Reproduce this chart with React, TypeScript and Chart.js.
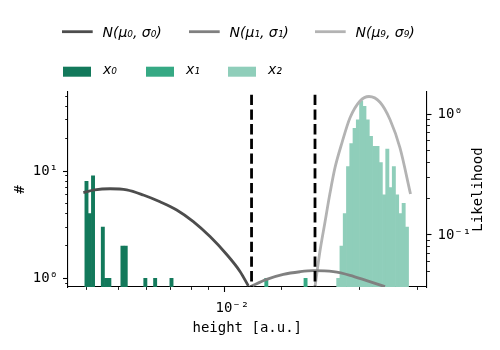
import React, { useEffect, useRef } from 'react';
import { Chart, registerables } from 'chart.js';

Chart.register(...registerables);

// ---------- data ----------
// histogram bins (bin centres, log-spaced 0.01 decade) and counts
const x0Bins = [0.003581, 0.003664, 0.00375, 0.004018, 0.004111, 0.004207, 0.004613, 0.004721, 0.00542, 0.005808, 0.006516];
const x0Counts = [8, 4, 9, 3, 1, 1, 2, 2, 1, 1, 1];
const x1Bins = [0.012706, 0.016749];
const x1Counts = [1, 1];
const x2Bins = [0.021086, 0.021577, 0.02208, 0.022594, 0.023121, 0.023659, 0.02421, 0.024774, 0.025351, 0.025942, 0.026546,
  0.027164, 0.027797, 0.028445, 0.029107, 0.029785, 0.030479, 0.031189, 0.031915, 0.032659, 0.03342, 0.034198];
const x2Counts = [1, 2, 4, 11, 18, 25, 30, 45, 40, 30, 21, 17, 17, 12, 6, 16, 7, 11, 6, 4, 5, 3];

// likelihood curves (right axis)
const n0X = [0.003503, 0.003795, 0.004227, 0.004754, 0.005343, 0.006011, 0.00676, 0.007599, 0.008547, 0.009613, 0.010557, 0.011193];
const n0Y = [0.224, 0.236, 0.241, 0.236, 0.214, 0.188, 0.161, 0.129, 0.097, 0.069, 0.05, 0.038];
const n1X = [0.011328, 0.012741, 0.014323, 0.016107, 0.017686, 0.020366, 0.022906, 0.025764, 0.029307];
const n1Y = [0.0374, 0.043, 0.0473, 0.0497, 0.0507, 0.0497, 0.0464, 0.0419, 0.0374];
const n9X = [0.017902, 0.018544, 0.019207, 0.019895, 0.020608, 0.02165, 0.022906, 0.024582, 0.026184, 0.028292, 0.03035, 0.032565, 0.035072];
const n9Y = [0.0374, 0.074, 0.128, 0.222, 0.36, 0.58, 0.93, 1.28, 1.395, 1.25, 0.9, 0.524, 0.218];

// vertical thresholds
const thresholds = [0.01145, 0.0179];

const seriesLabels = ['x₀', 'x₁', 'x₂'];
const curveLabels = ['N(μ₀, σ₀)', 'N(μ₁, σ₁)', 'N(μ₉, σ₉)'];
const xTitle = 'height [a.u.]';
const yTitle = '#';
const y1Title = 'Likelihood';

const xRange = [0.003144, 0.03925];
const yRange = [0.8296, 54.5];
const y1Range = [0.03717, 1.52];

// ---------- styles ----------
const barColors = ['#13795b', '#36a984', '#8fceba'];
const curveColors = ['#4d4d4d', '#808080', '#b3b3b3'];
const MONO = '"DejaVu Sans Mono", monospace';
const SANS = '"DejaVu Sans", sans-serif';

const SUP: Record<string, string> = { '-': '⁻', '0': '⁰', '1': '¹', '2': '²', '3': '³', '4': '⁴', '5': '⁵', '6': '⁶', '7': '⁷', '8': '⁸', '9': '⁹' };

function powExp(v: number): number | null {
  const e = Math.round(Math.log10(v));
  return Math.abs(v / Math.pow(10, e) - 1) < 1e-6 ? e : null;
}
function isNice(v: number): boolean {
  const e = Math.floor(Math.log10(v) + 1e-9);
  const s = v / Math.pow(10, e);
  const r = Math.round(s);
  return Math.abs(s - r) < 1e-6 && r >= 1 && r <= 9;
}
function logLabel(v: number): string {
  const e = powExp(v);
  if (e === null) return '';
  return '10' + String(e).split('').map((c) => SUP[c]).join('');
}

function logAxis(position: string, range: number[], outerStart: boolean, extra: any) {
  return {
    type: 'logarithmic',
    position,
    min: range[0],
    max: range[1],
    afterBuildTicks: (scale: any) => {
      scale.ticks = scale.ticks.filter((t: any) => isNice(t.value));
    },
    ticks: {
      autoSkip: false,
      maxRotation: 0,
      minRotation: 0,
      color: '#000',
      font: { family: MONO, size: 14 },
      callback: (v: any) => logLabel(Number(v)),
    },
    grid: {
      drawOnChartArea: false,
      drawTicks: true,
      tickLength: 5,
      tickColor: '#000',
      tickWidth: (ctx: any) => (ctx.tick && powExp(ctx.tick.value) !== null ? 1.1 : 0.9),
      tickBorderDash: (ctx: any) => (ctx.tick && powExp(ctx.tick.value) !== null ? [] : [2.8, 10]),
      tickBorderDashOffset: (ctx: any) => (ctx.tick && powExp(ctx.tick.value) !== null ? 0 : outerStart ? 10.6 : 0),
    },
    border: { display: true, color: '#000', width: 1.1 },
    ...extra,
  };
}

const overlayPlugin = {
  id: 'overlay',
  afterDraw(chart: any) {
    const { ctx, chartArea } = chart;
    const ds = chart.data.datasets;
    const curves = ds.filter((d: any) => d.yAxisID === 'y1');
    const bars = ds.filter((d: any) => d.type === 'bar');
    ctx.save();
    ctx.font = `italic 14px ${SANS}`;
    ctx.textBaseline = 'middle';
    ctx.textAlign = 'left';
    const row1X = [62, 189, 315];
    const row2X = [63, 146, 228];
    curves.forEach((d: any, i: number) => {
      const x = row1X[i];
      ctx.strokeStyle = d.borderColor;
      ctx.lineWidth = 2.8;
      ctx.lineCap = 'butt';
      ctx.beginPath();
      ctx.moveTo(x, 31.7);
      ctx.lineTo(x + 30.7, 31.7);
      ctx.stroke();
      ctx.fillStyle = '#000';
      ctx.fillText(d.label, x + 40.5, 33);
    });
    bars.forEach((d: any, i: number) => {
      const x = row2X[i];
      ctx.fillStyle = d.backgroundColor;
      ctx.fillRect(x, 66.7, 28, 10);
      ctx.fillStyle = '#000';
      ctx.fillText(d.label, x + 40, 70.5);
    });
    ctx.font = `14px ${MONO}`;
    ctx.textAlign = 'center';
    ctx.fillStyle = '#000';
    ctx.translate(chartArea.right + 51.5, (chartArea.top + chartArea.bottom) / 2);
    ctx.rotate(-Math.PI / 2);
    ctx.fillText(y1Title, 0, 0);
    ctx.restore();
  },
};

const pts = (xs: number[], ys: number[]) => xs.map((x, i) => ({ x, y: ys[i] }));

export default function App() {
  const ref = useRef<HTMLCanvasElement | null>(null);
  useEffect(() => {
    if (!ref.current) return;
    Chart.defaults.font.family = SANS;
    const barDs = (label: string, xs: number[], ys: number[], color: string) => ({
      type: 'bar',
      label,
      data: pts(xs, ys),
      backgroundColor: color,
      borderWidth: 0,
      grouped: false,
      barPercentage: 1,
      categoryPercentage: 1,
      xAxisID: 'x',
      yAxisID: 'y',
      order: 3,
    });
    const curveDs = (label: string, xs: number[], ys: number[], color: string) => ({
      type: 'line',
      label,
      data: pts(xs, ys),
      borderColor: color,
      borderWidth: 2.8,
      pointRadius: 0,
      cubicInterpolationMode: 'monotone',
      fill: false,
      xAxisID: 'x',
      yAxisID: 'y1',
      order: 2,
    });
    const thrDs = (t: number) => ({
      type: 'line',
      label: '',
      data: [{ x: t, y: yRange[1] }, { x: t, y: yRange[0] }],
      borderColor: '#000',
      borderWidth: 2.8,
      borderDash: [10.3, 4.4],
      borderDashOffset: 12,
      borderCapStyle: 'butt',
      pointRadius: 0,
      fill: false,
      xAxisID: 'x',
      yAxisID: 'y',
      order: 1,
    });
    const chart = new Chart(ref.current, {
      type: 'bar',
      data: {
        datasets: [
          barDs(seriesLabels[0], x0Bins, x0Counts, barColors[0]),
          barDs(seriesLabels[1], x1Bins, x1Counts, barColors[1]),
          barDs(seriesLabels[2], x2Bins, x2Counts, barColors[2]),
          curveDs(curveLabels[0], n0X, n0Y, curveColors[0]),
          curveDs(curveLabels[1], n1X, n1Y, curveColors[1]),
          curveDs(curveLabels[2], n9X, n9Y, curveColors[2]),
          ...thresholds.map(thrDs),
        ] as any,
      },
      options: {
        responsive: false,
        animation: false,
        events: [],
        layout: { padding: { top: 92, left: 0, right: 0, bottom: 0 } },
        plugins: { legend: { display: false }, tooltip: { enabled: false } },
        scales: {
          x: logAxis('bottom', xRange, false, {
            ticks: {
              autoSkip: false, maxRotation: 0, minRotation: 0, color: '#000', padding: 8,
              font: { family: MONO, size: 14 }, callback: (v: any) => logLabel(Number(v)),
            },
            title: { display: true, text: xTitle, color: '#000', font: { family: MONO, size: 14 }, padding: { top: 0, bottom: 13.6 } },
            afterFit: (s: any) => { s.height = 63; },
          }),
          y: logAxis('left', yRange, true, {
            ticks: {
              autoSkip: false, color: '#000', padding: 5,
              font: { family: MONO, size: 14 }, callback: (v: any) => logLabel(Number(v)),
            },
            title: { display: true, text: yTitle, color: '#000', font: { family: MONO, size: 14 }, padding: { top: 12.3, bottom: 0 } },
            afterFit: (s: any) => { s.width = 68; },
          }),
          y1: logAxis('right', y1Range, false, {
            ticks: {
              autoSkip: false, color: '#000', padding: 6,
              font: { family: MONO, size: 14 }, callback: (v: any) => logLabel(Number(v)),
            },
            afterFit: (s: any) => { s.width = 73.5; },
          }),
        },
      } as any,
      plugins: [overlayPlugin],
    });
    return () => chart.destroy();
  }, []);
  return (
    <div style={{ position: 'absolute', left: 0, top: 0, width: 500, height: 350 }}>
      <canvas ref={ref} width={500} height={350} style={{ display: 'block' }} />
    </div>
  );
}
